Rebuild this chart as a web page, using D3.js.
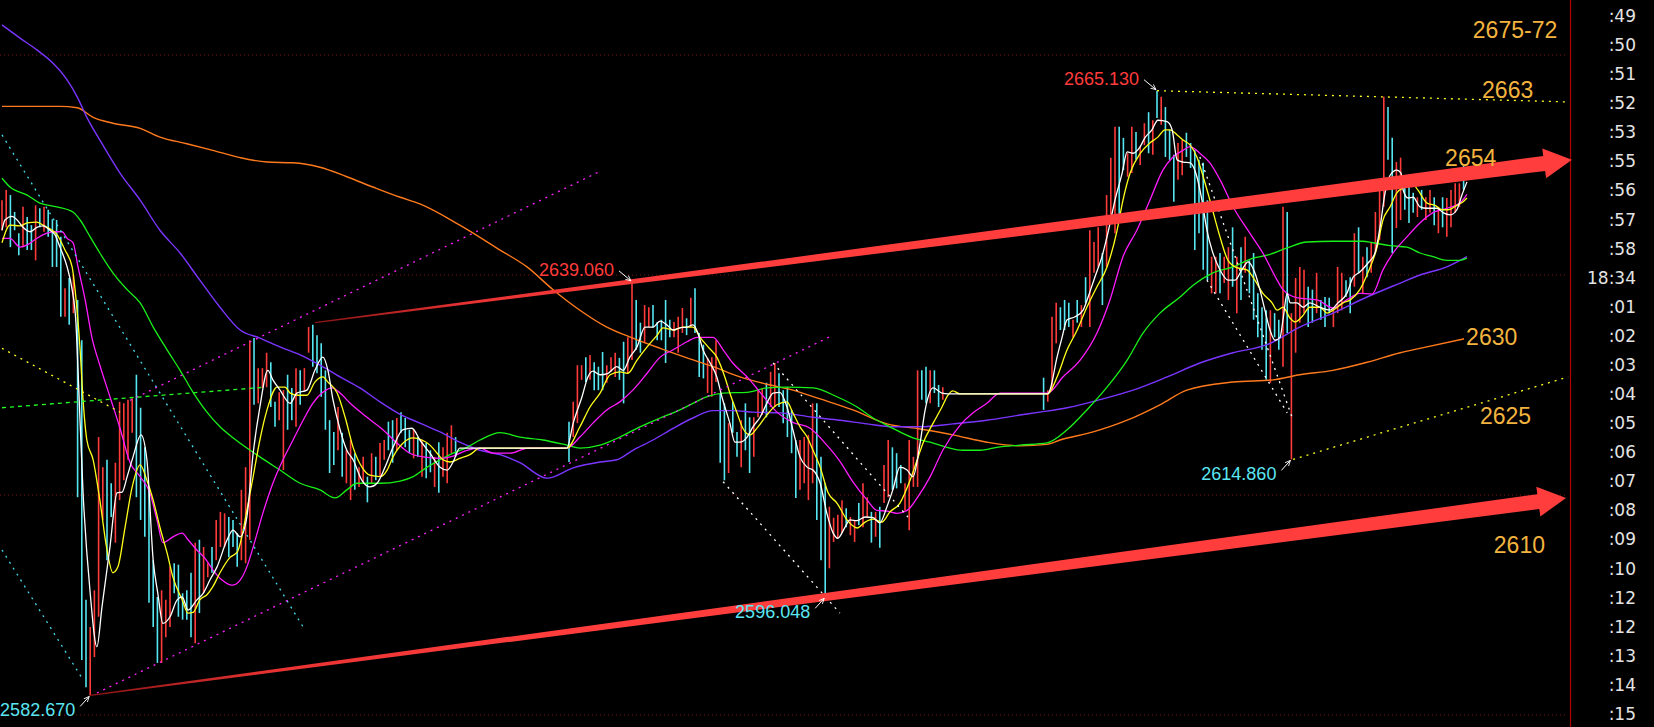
<!DOCTYPE html>
<html><head><meta charset="utf-8">
<script src="https://cdn.jsdelivr.net/npm/d3@7"></script>
<style>html,body{margin:0;padding:0;background:#000;overflow:hidden}</style>
</head><body>
<svg id="c" width="1654" height="727"></svg>
<script>
// ---------- DATA ----------
// bar highs / lows (price), null = no trading (flat periods)
const highs = [
2650.2,2651.6,2650.9,2648.6,2645.7,2649.3,2647.9,2646.8,2649.5,2649.1,
2649.3,2648.9,2647.6,2647.5,2645.2,2638.2,2639.6,2640.0,2636.6,2631.1,
2595.7,2592.0,2597.0,2617.9,2613.8,2614.8,2611.6,2614.4,2622.7,2622.5,
2623.0,2623.2,2626.4,2621.9,2616.5,2611.1,2601.1,2596.1,2597.0,2595.7,
2600.2,2600.7,2600.5,2596.6,2597.0,2599.4,2603.5,2603.9,2602.9,2600.7,
2602.9,2606.6,2607.7,2607.5,2607.0,2606.6,2604.8,2610.7,2613.8,2631.1,
2631.4,2627.3,2627.3,2629.4,2628.1,2622.7,2624.0,2624.3,2626.4,2624.6,
2627.3,2627.0,2627.3,2632.9,2633.2,2631.8,2630.7,2627.0,2620.2,2618.6,
2622.0,2618.5,2616.1,2617.5,2615.7,2613.8,2615.2,2612.5,2615.7,2615.2,
2617.1,2617.5,2620.0,2620.2,2620.5,2621.3,2620.5,2618.9,2618.9,2617.9,
2617.5,2617.1,2616.1,2615.2,2617.2,2616.5,2618.5,2619.5,2617.9,
null,null,null,null,null,null,null,null,null,null,null,null,null,
null,null,null,null,null,null,null,null,null,null,null,null,null,
2620.0,2622.7,2627.7,2627.7,2628.8,
2629.1,2628.1,2627.5,2629.5,2627.7,2628.8,2629.4,2628.7,2630.9,2631.5,
2639.06,2636.6,2633.5,2635.9,2635.6,2635.9,2633.6,2633.9,2636.6,2633.9,
2633.6,2634.3,2635.5,2634.1,2636.9,2638.2,2632.1,2630.5,2628.7,2628.8,
2631.1,2623.9,2622.5,2619.8,2622.7,2618.6,2620.2,2622.5,2620.6,2620.6,
2624.3,2624.6,2625.3,2626.8,2628.0,2626.6,2624.3,2624.7,2621.6,2617.5,
2617.5,2617.9,2618.2,2622.5,2622.5,2615.2,2611.6,2608.4,2606.9,2607.3,
2609.3,2608.2,2607.0,2606.6,2608.9,2611.6,2609.7,2607.7,2607.7,2608.4,
2614.1,2617.5,2616.5,2615.7,2614.1,2611.6,2617.5,2615.2,2627.0,2627.0,
2627.5,2627.0,2627.0,2625.0,2624.7,
null,null,null,null,null,null,null,null,null,null,null,null,
null,null,null,null,null,null,null,null,null,null,null,
2626.0,2624.3,
2634.3,2636.2,2635.6,2636.6,2636.2,2633.9,2636.6,2635.9,2639.7,2646.1,
2644.5,2646.5,2643.0,2650.9,2656.0,2660.2,2660.2,2658.7,2656.6,2660.2,
2659.5,2657.5,2660.7,2662.2,2661.1,2665.13,2664.3,2662.9,2659.8,2656.4,
2658.0,2658.4,2659.4,2658.0,2657.0,2655.7,2655.3,2650.2,2642.5,2642.5,
2643.0,2642.5,2643.8,2646.5,2642.5,2643.8,2645.2,2642.0,2643.0,2637.5,
2635.6,2635.2,2635.2,2634.8,2633.9,2649.3,2648.6,2634.8,2639.6,2641.1,
2640.7,2638.4,2638.0,2640.3,2636.6,2637.0,2636.9,2635.6,2641.1,2640.3,
2639.3,2639.7,2645.7,2646.5,2642.5,2643.8,2644.4,2648.6,2651.6,2664.3,
2662.9,2658.7,2655.4,2656.0,2652.5,2652.0,2651.2,2650.6,2651.6,2650.6,
2651.6,2650.6,2649.3,2650.6,2650.5,2651.6,2652.5,2652.5,2655.0
];
const lows = [
2646.1,2646.5,2643.8,2646.1,2642.7,2643.8,2643.4,2643.4,2642.0,2646.5,
2645.9,2645.2,2641.1,2641.1,2634.3,2634.3,2633.2,2634.8,2609.7,2587.5,
2583.8,2582.67,2587.9,2593.4,2606.6,2601.1,2607.0,2603.5,2609.3,2612.0,
2614.8,2618.5,2609.7,2606.6,2604.3,2595.3,2592.0,2587.1,2587.1,2590.6,
2592.0,2596.6,2593.4,2593.0,2593.0,2590.6,2589.8,2593.9,2596.6,2598.8,
2599.4,2601.1,2602.9,2602.9,2601.5,2602.9,2600.2,2601.1,2600.7,2603.9,
2622.3,2622.5,2624.6,2624.7,2622.0,2619.3,2620.2,2613.4,2618.9,2620.2,
2619.3,2622.3,2624.3,2629.4,2627.5,2626.6,2623.4,2618.9,2613.0,2614.1,
2616.1,2612.5,2611.6,2609.3,2610.7,2611.1,2611.6,2609.0,2611.6,2612.0,
2612.5,2614.8,2616.1,2614.4,2616.1,2618.5,2616.5,2615.7,2615.0,2615.2,
2612.5,2612.3,2613.1,2611.1,2610.3,2612.5,2611.6,2615.7,2615.2,
null,null,null,null,null,null,null,null,null,null,null,null,null,
null,null,null,null,null,null,null,null,null,null,null,null,null,
2614.5,2617.9,2619.8,2625.7,2625.4,
2625.7,2624.3,2624.3,2624.3,2625.3,2626.8,2626.1,2625.7,2622.5,2626.6,
2628.4,2629.8,2629.4,2630.7,2632.9,2632.8,2631.1,2631.1,2628.0,2631.5,
2631.5,2629.4,2632.1,2631.8,2632.9,2632.1,2626.1,2625.9,2623.9,2623.4,
2625.4,2614.4,2612.0,2613.0,2618.5,2615.2,2613.8,2616.1,2613.0,2615.2,
2620.6,2620.9,2620.6,2622.0,2622.0,2622.0,2619.8,2617.9,2615.7,2609.6,
2610.7,2611.6,2609.3,2611.6,2606.6,2601.1,2596.048,2600.0,2603.6,2604.1,
2604.8,2605.6,2604.5,2603.6,2605.9,2605.6,2607.0,2603.5,2604.3,2602.8,
2608.9,2609.7,2610.7,2610.9,2611.6,2607.9,2605.2,2611.1,2611.1,2623.0,
2622.5,2622.5,2623.9,2622.0,2623.0,
null,null,null,null,null,null,null,null,null,null,null,null,
null,null,null,null,null,null,null,null,null,null,null,
2621.6,2622.7,
2624.3,2630.7,2632.5,2632.5,2632.9,2631.5,2633.5,2632.9,2636.2,2632.9,
2640.3,2641.1,2635.9,2641.1,2648.2,2645.7,2647.1,2654.3,2653.4,2653.9,
2655.7,2655.0,2657.7,2656.6,2656.4,2661.4,2660.5,2656.1,2655.7,2650.0,
2653.0,2653.6,2656.1,2654.6,2643.4,2645.7,2640.7,2639.3,2637.5,2637.5,
2637.5,2638.9,2636.6,2638.4,2634.8,2636.6,2640.3,2637.5,2633.9,2631.5,
2629.8,2625.7,2625.3,2631.5,2629.8,2627.5,2632.1,2614.86,2629.4,2633.5,
2634.8,2632.9,2633.5,2634.8,2633.9,2632.9,2634.8,2632.9,2634.8,2635.2,
2637.0,2634.8,2638.4,2640.3,2637.5,2639.7,2640.3,2643.0,2644.8,2649.3,
2655.7,2643.0,2646.4,2647.5,2648.9,2647.1,2648.5,2647.9,2648.9,2647.5,
2648.5,2646.8,2645.7,2646.5,2645.2,2646.5,2648.5,2649.3,2651.6
];
// 1 = up bar (red), 0 = down bar (cyan)
const ups = [
1,1,0,0,0,1,0,0,1,0, 1,0,0,0,0,1,0,1,0,0, 0,1,1,1,1,0,0,1,1,1, 1,1,0,0,0,0,0,0,1,1,
1,0,0,0,0,0,1,0,1,1, 0,1,1,1,0,0,0,1,1,1, 0,1,1,1,0,0,1,1,0,0, 1,0,1,1,0,0,0,0,0,0,
1,0,1,1,0,1,1,0,1,0, 1,1,0,0,1,0,0,0,1,0, 1,0,0,1,0,1,1,1,0,
null,null,null,null,null,null,null,null,null,null,null,null,null,
null,null,null,null,null,null,null,null,null,null,null,null,null,
0,1,1,1,0, 1,0,0,0,1,1,1,0,0,1, 1,0,0,1,1,0,0,0,0,0, 1,1,1,0,1,0,0,0,1,1,
1,0,0,1,0,0,1,0,0,1, 1,1,0,1,1,0,0,0,0,0, 1,1,1,1,0,0,0,1,1,1, 1,0,1,1,0,1,1,0,1,0,
1,1,0,0,0,1,1,1,1,0, 0,1,0,0,1,
null,null,null,null,null,null,null,null,null,null,null,null,
null,null,null,null,null,null,null,null,null,null,null,
0,1, 1,1,0,0,0,1,0,1,0,1, 1,1,0,1,1,1,0,0,1,1, 0,1,1,0,1,0,1,0,0,0,
1,1,0,0,0,0,0,0,1,1, 0,1,1,0,1,0,1,0,0,0, 0,0,1,0,0,1,0,1,1,1, 1,0,0,1,0,0,0,1,1,1,
0,0,1,0,1,0,1,1,1,1, 0,0,1,1,0,0,0,1,0,1, 1,0,1,0,1,1,1,1,0
];

// moving averages: [bar index, price]
const whiteMA = [[0,2646.1],[0.7,2647.5],[2.4,2648.0],[3.6,2647.5],[5,2646.5],[6.7,2645.9],[8.3,2646.5],[9.8,2646.7],[11.4,2646.1],[12.6,2645.5],[13.8,2643.8],[15.5,2641.1],[16.7,2638.0],[17.6,2633.5],[18.1,2627.0],[19.3,2610.3],[21,2596.6],[22.6,2589.3],[23.8,2594.7],[25.7,2602.9],[27.4,2610.3],[28.6,2610.4],[29.8,2612.5],[31.2,2615.2],[33.1,2618.2],[34.5,2614.8],[36,2601.1],[37.1,2596.6],[38.3,2592.5],[40,2593.4],[41.7,2595.7],[42.9,2596.1],[44.3,2594.3],[46.4,2595.7],[47.9,2596.6],[49.5,2598.4],[51.2,2600.2],[53.6,2603.9],[55,2605.2],[56.7,2604.3],[58.3,2607.0],[59.8,2615.7],[61.4,2622.0],[63.3,2627.0],[64.5,2625.7],[66.2,2624.3],[68.6,2622.5],[70.2,2623.9],[72.6,2624.3],[74.5,2627.0],[76.4,2628.8],[77.6,2627.0],[78.8,2623.0],[80.5,2618.9],[82.1,2616.1],[83.6,2614.8],[85.7,2612.0],[87.6,2611.1],[89.3,2611.6],[91.2,2613.8],[93.1,2616.5],[95.5,2618.9],[97.6,2619.1],[99.5,2617.5],[101.9,2615.7],[104.3,2613.8],[106,2613.4],[107.4,2614.5],[109,2616.4],[134.5,2616.4],[136,2619.8],[138.1,2623.4],[139.5,2626.1],[140.7,2626.9],[142.4,2626.4],[144.3,2626.6],[146.4,2627.5],[147.9,2627.0],[149.5,2628.8],[151.2,2630.2],[153.1,2632.9],[155,2632.9],[156.7,2633.7],[158.3,2633.2],[159.8,2632.5],[161.4,2632.8],[163.1,2632.9],[164.5,2633.2],[165.7,2632.1],[166.9,2629.8],[168.6,2628.0],[170.2,2626.1],[171.4,2623.4],[173.3,2619.8],[174.5,2617.2],[175.7,2617.2],[177.4,2617.9],[178.8,2619.3],[180.5,2620.6],[182.1,2622.5],[183.6,2623.9],[185.2,2624.0],[186.9,2622.0],[188.3,2618.9],[190,2615.2],[191.7,2613.8],[193.1,2613.4],[194.8,2611.6],[196.4,2607.5],[197.9,2604.8],[199,2604.1],[200.7,2605.6],[201.9,2606.6],[203.6,2606.5],[205.5,2607.0],[207.4,2606.9],[209,2606.2],[210.7,2608.4],[212.1,2610.7],[213.8,2613.8],[215.5,2613.4],[216.9,2612.5],[218.6,2617.1],[219.8,2621.6],[221.7,2624.6],[223.8,2623.9],[225.2,2623.8],[249,2623.8],[249.5,2624.3],[251.2,2628.8],[252.4,2631.5],[253.6,2633.9],[255.5,2634.3],[257.4,2635.2],[258.6,2637.0],[260.2,2639.7],[261.9,2642.5],[263.3,2645.7],[265,2650.2],[266.7,2653.9],[267.9,2656.8],[269.3,2656.6],[271,2657.5],[272.1,2658.7],[273.8,2659.8],[275.2,2661.1],[277.4,2660.9],[278.6,2659.8],[279.8,2655.7],[281.2,2655.4],[282.9,2655.3],[284.5,2653.4],[285.7,2650.2],[286.9,2646.1],[288.1,2643.4],[290,2640.7],[291.9,2639.3],[293.6,2639.3],[295.2,2640.7],[296.7,2641.8],[298.3,2640.3],[299.5,2638.0],[300.7,2635.2],[301.9,2632.5],[303.1,2631.1],[304.3,2631.5],[305,2633.9],[306,2637.5],[306.7,2636.2],[308.3,2636.2],[309.8,2635.6],[311.4,2636.2],[313.8,2635.6],[316.2,2635.2],[318.1,2636.2],[320.2,2637.5],[321.7,2639.7],[323.3,2640.4],[325.2,2641.6],[326.9,2643.0],[328.1,2646.5],[329.3,2651.2],[330.5,2653.6],[332.1,2654.3],[333.1,2653.9],[333.6,2651.6],[334.8,2650.5],[336,2650.6],[337.6,2649.3],[339.3,2649.1],[341.7,2649.1],[343.1,2648.5],[344.8,2648.2],[346.4,2648.9],[347.6,2650.9],[348.8,2652.7]];

const yellowMA = [[0,2644.4],[1.9,2646.8],[4.3,2646.7],[6,2647.1],[8.3,2647.2],[9.8,2646.8],[11.4,2646.3],[13.1,2645.5],[15,2643.4],[16.7,2641.1],[17.4,2638.0],[18.6,2629.8],[19.3,2623.0],[20.2,2617.5],[21.7,2614.8],[23.3,2609.3],[25,2602.5],[26.4,2599.4],[27.6,2600.2],[29.3,2605.6],[31,2611.1],[32.9,2614.1],[34.5,2612.0],[36,2609.3],[37.6,2605.6],[39.3,2602.1],[40.7,2598.8],[42.9,2595.7],[44.3,2593.9],[45.5,2594.0],[47.1,2595.7],[48.8,2596.4],[50.2,2597.5],[51.9,2599.4],[54.3,2601.5],[56,2602.2],[57.1,2604.3],[58.3,2607.9],[59.8,2612.5],[61.4,2617.5],[63.1,2621.6],[65.5,2624.7],[67.4,2624.7],[68.6,2623.9],[70.5,2623.6],[72.6,2623.6],[74.5,2625.4],[76.4,2626.1],[77.6,2625.4],[79.8,2623.9],[81.7,2620.6],[83.6,2616.5],[85.7,2613.8],[87.6,2612.7],[90,2612.5],[91.7,2613.4],[93.1,2615.2],[95.5,2617.1],[97.9,2617.8],[100,2617.5],[101.9,2616.8],[103.6,2615.7],[105,2614.8],[106.7,2614.5],[109,2615.0],[111.4,2615.5],[113.8,2616.4],[134.5,2616.4],[137.6,2619.3],[140,2622.0],[142.4,2623.9],[144.8,2626.4],[147.1,2626.8],[149,2626.6],[151.2,2628.4],[153.6,2630.2],[156,2631.8],[157.4,2632.8],[159.8,2632.5],[162.1,2632.9],[164.5,2632.9],[166.2,2631.5],[168.1,2630.2],[170.2,2628.8],[172.1,2626.1],[173.3,2623.9],[175,2621.2],[176.4,2619.1],[178.1,2618.2],[180,2619.3],[182.1,2620.9],[184.5,2622.3],[186.9,2622.7],[188.3,2621.2],[190,2619.3],[191.7,2617.9],[193.1,2616.1],[194.8,2613.8],[196.7,2610.3],[198.8,2608.9],[201.2,2606.6],[203.6,2605.5],[205.5,2606.3],[207.4,2606.7],[209.5,2606.3],[211.4,2607.7],[213.8,2608.9],[216.2,2612.0],[217.9,2614.8],[219.3,2617.1],[221.7,2619.8],[223.8,2622.0],[225.2,2623.6],[226.4,2624.2],[228.1,2623.8],[249,2623.8],[251.2,2626.1],[253.6,2629.8],[256,2632.5],[258.3,2635.6],[260.7,2638.4],[263.1,2641.1],[265.5,2646.1],[266.9,2650.2],[268.6,2653.9],[271,2656.6],[273.3,2658.0],[275.2,2658.8],[276.9,2659.8],[278.1,2659.8],[279.8,2659.1],[281.2,2658.4],[282.9,2657.7],[284.5,2656.1],[286,2653.4],[287.6,2650.2],[290,2645.2],[291.9,2642.0],[294,2641.0],[296.4,2640.7],[298.3,2639.3],[300.2,2637.5],[302.4,2636.2],[303.6,2635.2],[305,2635.6],[306.7,2634.1],[307.9,2633.6],[309.5,2634.3],[311.4,2635.6],[313.8,2635.6],[315.5,2634.8],[316.9,2635.2],[319.3,2636.2],[321,2636.6],[323.3,2638.0],[325.2,2640.3],[327.4,2643.8],[328.8,2647.5],[330.5,2649.3],[332.1,2651.2],[334,2652.0],[335.7,2652.5],[337.1,2651.6],[339.3,2649.8],[341.2,2649.5],[342.9,2648.9],[344.3,2648.9],[346.4,2649.5],[347.9,2650.0],[348.8,2650.5]];

const magentaMA = [[0,2645.0],[1.9,2645.0],[4.3,2643.8],[6,2644.1],[8.3,2645.0],[10.7,2645.7],[12.6,2645.9],[14.3,2645.9],[15.5,2645.0],[16.9,2644.4],[18.1,2641.1],[19.8,2636.6],[21.4,2631.5],[23.3,2627.7],[25.7,2623.4],[28.1,2619.1],[30.5,2614.4],[32.9,2612.5],[35.2,2610.3],[36.9,2606.6],[38.3,2603.5],[40.7,2604.3],[42.9,2604.8],[44.3,2603.9],[46.4,2602.5],[48.3,2601.4],[50.2,2599.8],[52.4,2598.4],[54.8,2597.7],[56.7,2598.4],[58.3,2600.2],[59.8,2602.9],[62.1,2607.5],[64.5,2611.6],[66.9,2614.8],[69.3,2617.5],[71.7,2620.2],[74,2622.5],[76.4,2624.0],[78.6,2624.6],[80.5,2623.9],[82.9,2622.5],[86.9,2620.6],[90.7,2618.9],[94,2617.1],[97.1,2615.7],[100.2,2615.2],[104.3,2615.0],[107.4,2615.3],[110.7,2616.1],[113.8,2616.4],[116.9,2615.7],[121,2615.7],[125.2,2616.4],[134.5,2616.4],[137.6,2617.9],[140.7,2619.8],[144,2621.6],[147.1,2622.7],[150.2,2624.3],[153.6,2626.6],[156.7,2628.8],[159.8,2629.8],[163.1,2630.9],[165.5,2631.5],[169.3,2631.5],[171.7,2629.8],[174,2628.0],[177.4,2626.1],[180.5,2624.0],[184.5,2621.3],[188.3,2619.9],[192.4,2619.1],[196.4,2616.8],[199.5,2614.6],[202.6,2611.8],[206,2609.3],[208.3,2607.9],[210.7,2607.8],[213.1,2607.5],[215.5,2607.9],[217.9,2609.6],[221,2612.5],[224,2616.1],[228.1,2619.5],[231.2,2621.2],[234.5,2622.5],[237.6,2623.9],[249,2623.9],[252.6,2626.1],[256.7,2628.4],[260.7,2632.1],[263.8,2636.6],[266.9,2642.5],[270.2,2646.1],[273.3,2650.2],[276.4,2654.3],[278.8,2656.1],[281.2,2657.0],[282.9,2657.5],[285.2,2656.6],[287.6,2655.3],[290,2653.0],[293.1,2649.3],[297.1,2645.7],[300.2,2643.0],[303.6,2639.3],[305,2638.0],[308.3,2636.9],[313.1,2636.6],[316.9,2635.5],[320.2,2636.6],[323.3,2637.5],[326.2,2637.4],[328.8,2640.7],[331.2,2643.0],[334.5,2645.2],[337.6,2647.1],[340.7,2648.5],[344,2649.1],[347.1,2649.8],[348.8,2651.0]];

const greenMA = [[0,2653.2],[1.9,2652.0],[6,2650.9],[9,2649.8],[13.1,2649.3],[16.9,2648.6],[18.6,2647.5],[21,2645.2],[23.3,2643.0],[26.4,2640.3],[29.8,2638.0],[32.9,2636.2],[36,2632.9],[39.3,2629.8],[42.4,2627.0],[45.5,2624.0],[48.8,2621.3],[51.9,2619.3],[55,2617.8],[58.3,2616.4],[61.4,2615.2],[66.2,2613.4],[71,2611.6],[75.7,2610.7],[79.3,2609.6],[82.1,2610.7],[84.5,2611.6],[90,2611.6],[94.8,2611.9],[97.9,2612.5],[101.2,2613.8],[104.3,2614.8],[107.4,2615.7],[110.7,2616.5],[113.8,2617.5],[118.6,2618.5],[123.3,2617.9],[128.8,2617.5],[134.5,2616.8],[137.6,2616.4],[142.4,2616.8],[147.1,2617.9],[151.9,2619.3],[156.7,2620.5],[161.4,2621.6],[164.5,2622.5],[167.9,2623.4],[171.7,2623.9],[177.4,2624.0],[182.1,2624.6],[186.9,2624.7],[193.1,2624.6],[198.8,2623.4],[203.6,2622.0],[207.4,2620.5],[211.4,2619.3],[216.9,2617.8],[221,2617.2],[225,2616.5],[228.8,2616.1],[232.9,2616.1],[236.9,2616.5],[242.4,2616.8],[248.8,2617.1],[253.6,2618.9],[258.3,2621.6],[263.1,2624.7],[267.9,2628.4],[271.7,2632.1],[275.7,2634.8],[280.5,2637.0],[283.6,2638.6],[288.3,2640.3],[293.1,2641.1],[297.9,2642.3],[301.2,2642.7],[306,2643.7],[310.7,2644.5],[316.9,2644.6],[324,2644.6],[326.4,2644.4],[330.5,2644.0],[334.5,2643.8],[337.6,2643.0],[340.7,2642.5],[344,2642.0],[347.1,2642.0],[348.8,2642.3]];

const purpleMA = [[0,2674.1],[4.3,2672.3],[8.3,2670.7],[12.1,2668.9],[15.5,2666.6],[17.9,2664.3],[20.2,2661.5],[23.3,2658.4],[28.1,2653.9],[32.9,2650.2],[37.6,2646.1],[42.4,2643.0],[47.1,2639.3],[51.9,2635.6],[56.7,2632.5],[61.4,2631.4],[66.2,2630.2],[71,2629.1],[75.7,2627.7],[80.5,2626.1],[85.2,2624.6],[90,2622.7],[94.8,2621.0],[99.5,2619.8],[104.3,2618.6],[109,2617.2],[113.8,2616.1],[118.6,2615.5],[123.3,2614.4],[129.8,2612.3],[136,2613.7],[142.4,2614.5],[146.4,2614.8],[150.2,2616.1],[155,2617.5],[159.8,2619.1],[164.5,2620.5],[169.3,2621.5],[174,2621.5],[178.8,2621.3],[185.2,2621.2],[193.1,2620.6],[199.5,2620.2],[206,2619.7],[212.1,2619.3],[218.6,2619.3],[226.4,2619.7],[234.5,2620.2],[242.4,2620.9],[247.1,2621.3],[253.6,2621.9],[261.4,2623.0],[269.3,2624.3],[277.4,2626.1],[285.2,2628.0],[293.1,2629.4],[301.2,2630.5],[309,2632.9],[316.9,2634.8],[325,2637.0],[332.9,2638.9],[337.6,2640.0],[344,2641.1],[348.8,2642.5]];

const orangeMA = [[0,2663.0],[13.8,2663.0],[17.9,2662.8],[21.7,2661.5],[26.4,2660.7],[32.9,2660.0],[37.6,2658.8],[44,2657.9],[50.2,2657.0],[56.7,2656.0],[63.1,2655.4],[69.3,2655.3],[75.7,2654.7],[82.1,2653.4],[88.3,2652.0],[94.8,2650.6],[99.5,2649.7],[109,2646.8],[118.6,2643.4],[125,2641.1],[131.2,2638.0],[137.6,2635.2],[144,2632.9],[150.2,2631.4],[156.7,2630.0],[163.1,2628.7],[169.3,2627.5],[175.7,2626.1],[182.1,2625.1],[188.3,2624.3],[194.8,2623.1],[202.6,2621.6],[210.7,2619.7],[218.6,2619.0],[226.4,2618.2],[234.5,2617.2],[242.4,2616.7],[248.8,2616.9],[251.9,2617.5],[259.8,2618.6],[267.9,2620.2],[275.7,2622.3],[282.1,2624.3],[293.1,2625.4],[302.6,2625.7],[309,2626.4],[316.9,2627.0],[325,2628.1],[332.9,2629.4],[337.6,2630.0],[348.1,2631.3]];

// drawn trend lines: [[t0,p0],[t1,p1]]
const cyanRays = [[[0,2659.1],[71.7,2592.0]], [[0,2602.5],[19.3,2584.8]]];
const magentaRays = [[[30.5,2622.9],[142.6,2654.2]], [[22.6,2583.0],[197.9,2631.8]]];
const whiteRays = [[[171.7,2611.8],[199.5,2593.9]], [[183.6,2628.0],[215.7,2607.0]], [[285.2,2656.1],[307.4,2620.2]], [[286.9,2639.3],[306,2621.2]]];
const yellowRays = [[[275,2665.13],[372.9,2663.6]], [[307.4,2614.86],[372.9,2626.1]], [[0,2630.0],[28.1,2621.3]]];
const greenRays = [[[0,2621.9],[62.6,2624.7]]];
const channelArrows = [[[74.5,2633.5],[373.8,2655.7]], [[21,2582.67],[372.4,2609.6]]];

// marked extremes
const extT = [275, 150, 196, 307, 21];
const extV = [2665.13, 2639.06, 2596.048, 2614.86, 2582.67];
const extKind = ["high","high","low","low","low"];

// target notes on the right
const noteText = ["2675-72","2663","2654","2630","2625","2610"];
const noteT = [350.2, 352.4, 343.6, 348.6, 351.9, 355.2];
const noteV = [2672.3, 2664.1, 2654.9, 2630.5, 2619.7, 2602.1];

const gridLevels = [2670, 2640, 2610, 2580];
const timeLabels = [":49",":50",":51",":52",":53",":55",":56",":57",":58","18:34",":01",":02",":03",":04",":05",":06",":07",":08",":09",":10",":12",":12",":13",":14",":15"];

// ---------- DRAW ----------
const svg = d3.select("#c");
const defs = svg.append("defs");
svg.append("rect").attr("width",1654).attr("height",727).attr("fill","#000");

const x = d3.scaleLinear().domain([0, 348]).range([2, 1463.6]);
const y = d3.scaleLinear().domain([2580, 2670]).range([715, 55]);

// grid
svg.append("g").selectAll("line").data(gridLevels).join("line")
  .attr("x1",0).attr("x2",1568).attr("y1",d=>y(d)).attr("y2",d=>y(d))
  .attr("stroke","#7a1010").attr("stroke-width",1).attr("stroke-dasharray","1,3");

// right border
svg.append("line").attr("x1",1570.5).attr("x2",1570.5).attr("y1",0).attr("y2",727)
  .attr("stroke","#b00000").attr("stroke-width",1.2);

// time axis labels
const tScale = d3.scalePoint().domain(d3.range(timeLabels.length)).range([16, 714]);
const ax = svg.append("g").attr("transform","translate(1636,0)")
  .call(d3.axisLeft(tScale).tickSize(0).tickPadding(0).tickFormat(i=>timeLabels[i]));
ax.select(".domain").remove();
ax.selectAll("text").attr("fill","#e4e4e4").attr("font-size",17)
  .attr("font-family","'DejaVu Sans', Verdana, sans-serif");

// bars
const bars = highs.map((h,i)=>({i, h, l: lows[i], u: ups[i]})).filter(d=>d.h!=null);
svg.append("g").selectAll("line").data(bars).join("line")
  .attr("x1",d=>x(d.i)).attr("x2",d=>x(d.i))
  .attr("y1",d=>y(d.h)).attr("y2",d=>y(d.l))
  .attr("stroke",d=>d.u ? "#ff3a3a" : "#55e6f2").attr("stroke-width",1.6);

// moving averages
const line = d3.line().x(d=>x(d[0])).y(d=>y(d[1])).curve(d3.curveMonotoneX);
[[orangeMA,"#ff7a1c",1.4],[purpleMA,"#7b35ff",1.4],[greenMA,"#18f018",1.3],
 [magentaMA,"#ff1cff",1.3],[yellowMA,"#ffff1a",1.3],[whiteMA,"#ffffff",1.3]]
 .forEach(([data,col,w])=>{
   svg.append("path").attr("d",line(data)).attr("fill","none")
     .attr("stroke",col).attr("stroke-width",w);
 });

// dotted rays
function rays(data, col, dash){
  svg.append("g").selectAll("line").data(data).join("line")
    .attr("x1",d=>x(d[0][0])).attr("y1",d=>y(d[0][1]))
    .attr("x2",d=>x(d[1][0])).attr("y2",d=>y(d[1][1]))
    .attr("stroke",col).attr("stroke-width",1.3).attr("stroke-dasharray",dash);
}
rays(cyanRays,"#44dcec","2,5");
rays(magentaRays,"#ff22ff","2,5");
rays(whiteRays,"#ffffff","2,5");
rays(yellowRays,"#ffff22","2,5");
rays(greenRays,"#22ff22","4,4");

// channel arrows (tapered)
channelArrows.forEach((a,k)=>{
  const s=[x(a[0][0]), y(a[0][1])], t=[x(a[1][0]), y(a[1][1])];
  const dx=t[0]-s[0], dy=t[1]-s[1], L=Math.hypot(dx,dy);
  const u=[dx/L, dy/L], n=[-u[1], u[0]];
  const headLen=28, headHalf=15, shaftEnd=7.5, shaftStart=0.6;
  const b=[t[0]-u[0]*headLen, t[1]-u[1]*headLen];
  const P=(p,m)=>[p[0]+n[0]*m, p[1]+n[1]*m];
  const pts=[P(s,shaftStart),P(b,shaftEnd),P(b,headHalf),t,P(b,-headHalf),P(b,-shaftEnd),P(s,-shaftStart)];
  const g=defs.append("linearGradient").attr("id","ag"+k).attr("gradientUnits","userSpaceOnUse")
    .attr("x1",s[0]).attr("y1",s[1]).attr("x2",t[0]).attr("y2",t[1]);
  g.append("stop").attr("offset",0).attr("stop-color","#8a1414");
  g.append("stop").attr("offset",0.12).attr("stop-color","#e83232");
  g.append("stop").attr("offset",0.3).attr("stop-color","#ff3d3d");
  svg.append("path").attr("d","M"+pts.map(p=>p.join(",")).join("L")+"Z")
    .attr("fill","url(#ag"+k+")");
});

// extreme markers
defs.append("marker").attr("id","ah").attr("viewBox","0 0 10 10").attr("refX",9).attr("refY",5)
  .attr("markerWidth",6).attr("markerHeight",6).attr("orient","auto")
  .append("path").attr("d","M0,1L9,5L0,9").attr("fill","none").attr("stroke","#fff").attr("stroke-width",1.4);
extT.forEach((t,i)=>{
  const px=x(t), py=y(extV[i]), hi=extKind[i]==="high";
  svg.append("line").attr("x1",px+(hi?-13:-10)).attr("y1",py+(hi?-11:11))
    .attr("x2",px-1).attr("y2",py+(hi?-1:1))
    .attr("stroke","#fff").attr("stroke-width",1).attr("marker-end","url(#ah)");
  svg.append("text").attr("x",px+(hi?-18:-15)).attr("y",py+(hi?-6:21))
    .attr("text-anchor","end").attr("font-size",18)
    .attr("font-family","'Liberation Sans', Arial, sans-serif")
    .attr("fill",hi?"#ff3b3b":"#5ae6f2").text(extV[i].toFixed(3));
});

// right side notes
noteText.forEach((s,i)=>{
  svg.append("text").attr("x",x(noteT[i])).attr("y",y(noteV[i]))
    .attr("font-size",23).attr("font-family","'Liberation Sans', Arial, sans-serif")
    .attr("fill","#f2b43e").text(s);
});
</script>
</body></html>
